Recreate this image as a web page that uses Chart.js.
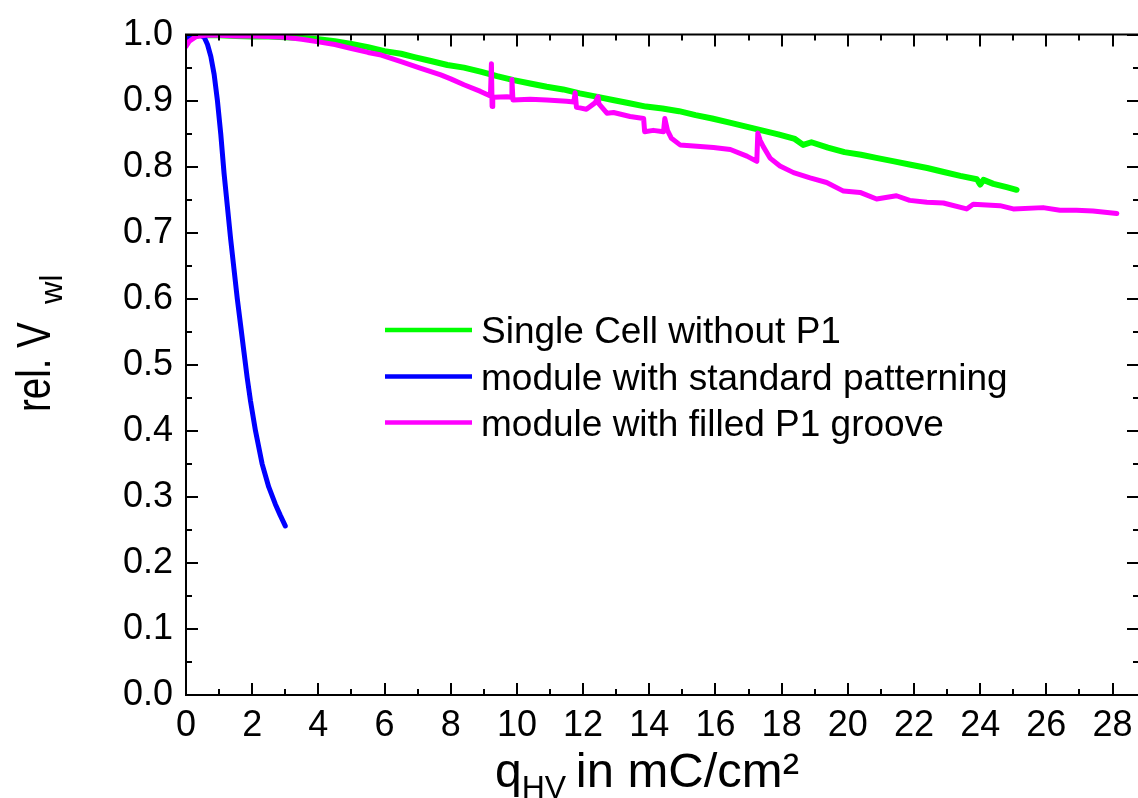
<!DOCTYPE html>
<html><head><meta charset="utf-8">
<script src="https://cdn.jsdelivr.net/npm/chart.js@4.4.0/dist/chart.umd.min.js"></script>
<style>
html,body{margin:0;padding:0;overflow:hidden;background:#fff;width:1138px;height:798px}
#wrap{position:relative;width:1142px;height:798px}
</style></head>
<body><div id="wrap"><canvas id="c"></canvas></div>
<script>
// ---- data ----
const qSingleCell = [0,0.15,0.4,1,1.5,2,2.5,3,3.5,4,4.5,5,5.5,6,6.5,6.9,7.4,7.9,8.4,8.9,9.4,9.9,10.4,10.9,11.4,11.9,12.4,12.9,13.4,13.9,14.4,14.9,15.4,15.9,16.4,16.9,17.4,17.9,18.4,18.65,18.9,19.4,19.9,20.4,20.9,21.4,21.9,22.4,22.9,23.4,23.9,24.0,24.1,24.4,24.8,25.1];
const vSingleCell = [0.99,0.996,0.999,0.999,0.998,0.997,0.997,0.996,0.995,0.993,0.99,0.986,0.981,0.975,0.971,0.966,0.960,0.954,0.950,0.944,0.937,0.931,0.926,0.921,0.917,0.911,0.906,0.901,0.896,0.891,0.888,0.884,0.878,0.873,0.867,0.861,0.855,0.849,0.842,0.833,0.837,0.829,0.822,0.818,0.813,0.808,0.803,0.798,0.792,0.786,0.781,0.773,0.780,0.774,0.769,0.765];

const qStandard = [0,0.1,0.2,0.3,0.45,0.55,0.65,0.75,0.85,0.95,1.05,1.15,1.25,1.35,1.45,1.55,1.65,1.75,1.85,1.95,2.1,2.3,2.5,2.7,2.85,3.0];
const vStandard = [0.995,0.997,0.998,0.999,0.999,0.996,0.985,0.967,0.94,0.90,0.85,0.79,0.74,0.69,0.645,0.60,0.56,0.52,0.48,0.445,0.40,0.35,0.315,0.289,0.272,0.256];

const qFilled = [0,0.1,0.3,0.6,1,1.5,2,2.5,3,3.5,4,4.5,5,5.5,5.9,6.5,7.1,7.7,8.0,8.4,8.9,9.2,9.23,9.25,9.27,9.3,9.7,9.83,9.85,9.88,10.4,10.9,11.5,11.72,11.76,11.8,11.9,12.1,12.37,12.45,12.48,12.72,12.92,13.42,13.83,13.86,14.12,14.43,14.47,14.55,14.67,14.93,15.44,15.94,16.45,16.95,17.25,17.28,17.35,17.45,17.65,17.95,18.36,18.86,19.36,19.87,20.37,20.87,21.47,21.87,22.39,22.89,23.59,23.79,24.6,25.0,25.9,26.41,26.91,27.41,28.13];
const vFilled = [0.982,0.99,0.997,0.999,0.999,0.998,0.998,0.997,0.996,0.993,0.989,0.985,0.979,0.973,0.969,0.959,0.949,0.939,0.933,0.924,0.914,0.907,0.956,0.891,0.905,0.905,0.906,0.905,0.932,0.901,0.902,0.901,0.899,0.898,0.912,0.89,0.889,0.887,0.897,0.906,0.895,0.881,0.882,0.876,0.873,0.853,0.855,0.853,0.873,0.855,0.843,0.833,0.831,0.829,0.826,0.816,0.808,0.851,0.84,0.83,0.813,0.801,0.791,0.783,0.776,0.763,0.761,0.751,0.756,0.749,0.746,0.745,0.736,0.743,0.741,0.736,0.738,0.734,0.734,0.733,0.729];

const seriesLabels = ['Single Cell without P1','module with standard patterning','module with filled P1 groove'];
const seriesColors = ['#00ff00','#0000ff','#ff00ff'];
const xTickValues = [0,2,4,6,8,10,12,14,16,18,20,22,24,26,28];
const xMinorValues = [1,3,5,7,9,11,13,15,17,19,21,23,25,27];
const yTickValues = [0,0.1,0.2,0.3,0.4,0.5,0.6,0.7,0.8,0.9,1.0];
const yMinorValues = [0.05,0.15,0.25,0.35,0.45,0.55,0.65,0.75,0.85,0.95];
const xTitle = ['q','HV',' in mC/cm²'];
const yTitle = ['rel. V','wl'];

const FONT = "'Liberation Sans', Arial, sans-serif";
const pairs = (xs, ys) => xs.map((x, i) => ({x, y: ys[i]}));

const framePlugin = {
  id: 'frame',
  afterDatasetsDraw(chart) {
    const {ctx, chartArea: a, scales: {x, y}} = chart;
    ctx.save();
    ctx.strokeStyle = '#000';
    ctx.lineWidth = 2;
    ctx.lineCap = 'butt';
    ctx.beginPath();
    ctx.rect(a.left, a.top, a.right - a.left, a.bottom - a.top);
    ctx.stroke();
    const MAJ = 12, MIN = 6;
    ctx.beginPath();
    const xt = (v, L) => { const p = Math.round(x.getPixelForValue(v)); ctx.moveTo(p, a.bottom); ctx.lineTo(p, a.bottom - L); ctx.moveTo(p, a.top); ctx.lineTo(p, a.top + L); };
    const yt = (v, L) => { const p = Math.round(y.getPixelForValue(v)); ctx.moveTo(a.left, p); ctx.lineTo(a.left + L, p); ctx.moveTo(a.right, p); ctx.lineTo(a.right - L, p); };
    xTickValues.forEach(v => xt(v, MAJ)); xMinorValues.forEach(v => xt(v, MIN));
    yTickValues.forEach(v => yt(v, MAJ)); yMinorValues.forEach(v => yt(v, MIN));
    ctx.stroke();
    ctx.restore();
  },
  afterDraw(chart) {
    const {ctx} = chart;
    ctx.save();
    ctx.fillStyle = '#000';
    ctx.textBaseline = 'alphabetic';
    ctx.textAlign = 'left';
    // x title
    ctx.font = '48px ' + FONT;
    let xx = 495;
    ctx.fillText(xTitle[0], xx, 787);
    xx += ctx.measureText(xTitle[0]).width;
    ctx.font = '32px ' + FONT;
    ctx.fillText(xTitle[1], xx, 798);
    xx += ctx.measureText(xTitle[1]).width - 4;
    ctx.font = '49px ' + FONT;
    ctx.fillText(xTitle[2], xx, 787);
    // y title
    ctx.save();
    ctx.translate(50, 412);
    ctx.rotate(-Math.PI / 2);
    ctx.save();
    ctx.scale(0.8, 1);
    ctx.font = '48px ' + FONT;
    ctx.fillText(yTitle[0], 0, 0);
    ctx.restore();
    ctx.font = '31px ' + FONT;
    ctx.fillText(yTitle[1], 108, 12);
    ctx.restore();
    // legend
    const rows = [330, 376.5, 422.5];
    chart.data.datasets.forEach((ds, i) => {
      ctx.strokeStyle = ds.borderColor;
      ctx.lineWidth = 4.5;
      ctx.beginPath();
      ctx.moveTo(385, rows[i]); ctx.lineTo(472, rows[i]);
      ctx.stroke();
      ctx.font = '37px ' + FONT;
      ctx.fillText(ds.label, 481, rows[i] + 13.3);
    });
    ctx.restore();
  }
};

new Chart(document.getElementById('c'), {
  type: 'scatter',
  data: {
    datasets: [
      {label: seriesLabels[0], data: pairs(qSingleCell, vSingleCell), borderColor: seriesColors[0], borderWidth: 6, order: 3},
      {label: seriesLabels[1], data: pairs(qStandard, vStandard), borderColor: seriesColors[1], borderWidth: 5, order: 2},
      {label: seriesLabels[2], data: pairs(qFilled, vFilled), borderColor: seriesColors[2], borderWidth: 5, order: 1}
    ].map(d => Object.assign(d, {showLine: true, pointRadius: 0, pointHoverRadius: 0, fill: false, tension: 0, borderJoinStyle: 'round', borderCapStyle: 'round', backgroundColor: d.borderColor}))
  },
  options: {
    responsive: true,
    maintainAspectRatio: false,
    animation: false,
    events: [],
    layout: {padding: {left: 0, right: 3, top: 31, bottom: 0}},
    plugins: {legend: {display: false}, tooltip: {enabled: false}, title: {display: false}},
    scales: {
      x: {
        type: 'linear', position: 'bottom', min: 0, max: 28.8,
        grid: {display: false, drawTicks: false}, border: {display: false},
        afterBuildTicks: s => { s.ticks = xTickValues.map(v => ({value: v})); },
        afterFit: s => { s.height = 103; },
        ticks: {color: '#000', font: {family: FONT, size: 36}, padding: 9, maxRotation: 0, autoSkip: false,
          callback: v => String(v)}
      },
      y: {
        type: 'linear', position: 'left', min: 0, max: 1,
        grid: {display: false, drawTicks: false}, border: {display: false},
        afterBuildTicks: s => { s.ticks = yTickValues.map(v => ({value: v})); },
        afterFit: s => { s.width = 186; },
        ticks: {color: '#000', font: {family: FONT, size: 36}, padding: 13, autoSkip: false,
          callback: v => Number(v).toFixed(1)}
      }
    }
  },
  plugins: [framePlugin]
});
</script>
</body></html>
